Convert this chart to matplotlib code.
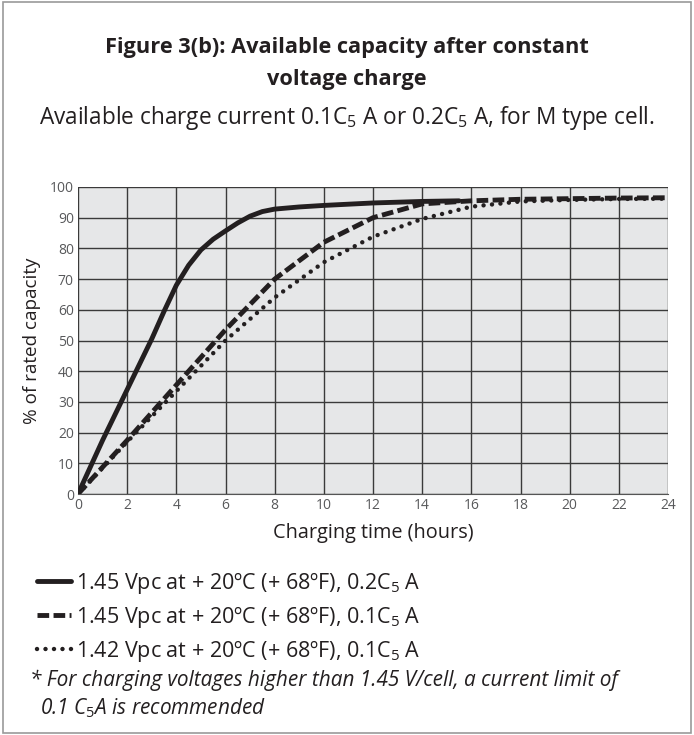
import matplotlib
matplotlib.use("Agg")
import matplotlib.pyplot as plt
from matplotlib.patches import Rectangle

plt.rcParams['font.family'] = ['Open Sans', 'DejaVu Sans']
plt.rcParams['mathtext.fontset'] = 'custom'
plt.rcParams['mathtext.rm'] = 'Open Sans'
plt.rcParams['mathtext.it'] = 'Open Sans:italic'
plt.rcParams['mathtext.default'] = 'regular'

# Data
hours_a = [0, 1, 2, 3, 3.5, 4, 4.5, 5, 5.5, 6, 6.5, 7, 7.5, 8, 9, 10, 12, 14, 15.5]
cap_a = [0, 17.5, 34, 50.5, 59.5, 68, 74.5, 79.5, 83, 85.7, 88.3, 90.5, 92, 92.8,
         93.5, 94, 94.8, 95.3, 95.5]
hours_b = [0, 2, 4, 6, 8, 10, 12, 14, 16, 18, 20, 22, 24]
cap_b = [0, 17.5, 35.5, 53.5, 70, 82, 90, 94.5, 95.5, 96, 96.2, 96.4, 96.5]
hours_c = [0, 2, 4, 6, 8, 10, 12, 14, 16, 18, 20, 22, 24]
cap_c = [0, 17, 33.5, 50, 64, 75.5, 83.8, 89.6, 93.6, 95.3, 95.8, 96.1, 96.2]
labels = ["1.45 Vpc at + 20ºC (+ 68ºF), 0.2C$_5$ A",
          "1.45 Vpc at + 20ºC (+ 68ºF), 0.1C$_5$ A",
          "1.42 Vpc at + 20ºC (+ 68ºF), 0.1C$_5$ A"]
xticks = list(range(0, 25, 2))
yticks = list(range(0, 101, 10))

fig = plt.figure(figsize=(6.94, 7.35), dpi=100)
fig.patches.append(Rectangle((0.004, 0.003), 0.992, 0.994, transform=fig.transFigure,
                             fill=False, edgecolor='#9a9a9a', linewidth=1.2))

ax = fig.add_axes([78/694, 1-494/735, 590/694, 307/735])
ax.set_facecolor('#e6e7e8')
l1, = ax.plot(hours_a, cap_a, color='#231f20', lw=3.5, solid_capstyle='round',
              solid_joinstyle='round', zorder=5)
l2, = ax.plot(hours_b, cap_b, color='#231f20', lw=3.5, dashes=(2.4, 0.9), zorder=4)
l3, = ax.plot(hours_c, cap_c, color='#231f20', lw=3.2, dashes=(0.01, 1.9),
              dash_capstyle='round', zorder=3)

ax.set_xlim(0, 24)
ax.set_ylim(0, 100)
ax.set_xticks(xticks)
ax.set_yticks(yticks)
ax.grid(True, color='#3a3a3a', lw=1.0)
ax.set_axisbelow(True)
for s in ax.spines.values():
    s.set_visible(False)
ax.spines['bottom'].set_visible(True)
ax.spines['bottom'].set_color('#555555')
ax.tick_params(length=0, labelsize=10, labelcolor='#58595b', pad=3)
ax.set_xlabel("Charging time (hours)", fontsize=14.3, color='#231f20', labelpad=7)
ax.set_ylabel("% of rated capacity", fontsize=13.6, color='#231f20', labelpad=6)

fig.text(0.5, 1-47/735, "Figure 3(b): Available capacity after constant",
         ha='center', va='center', fontsize=15.7, fontweight='bold', color='#231f20')
fig.text(0.5, 1-79/735, "voltage charge",
         ha='center', va='center', fontsize=15.7, fontweight='bold', color='#231f20')
fig.text(0.5, 1-118/735, "Available charge current 0.1C$_5$ A or 0.2C$_5$ A, for M type cell.",
         ha='center', va='center', fontsize=16.3, color='#231f20')

leg = fig.legend([l1, l2, l3], labels, loc='upper left',
                 bbox_to_anchor=(28/694, 1-561/735), frameon=False,
                 fontsize=15.5, handlelength=1.6, handletextpad=0.25,
                 labelspacing=0.38, borderaxespad=0)
for t in leg.get_texts():
    t.set_color('#231f20')

fig.text(30/694, 1-680/735,
         "* For charging voltages higher than 1.45 V/cell, a current limit of",
         ha='left', va='center', fontsize=14.95, style='italic', color='#231f20')
fig.text(40/694, 1-708/735,
         "0.1 $\\mathit{C_5A}$ is recommended",
         ha='left', va='center', fontsize=14.95, style='italic', color='#231f20')

fig.savefig("out.png", dpi=100)
